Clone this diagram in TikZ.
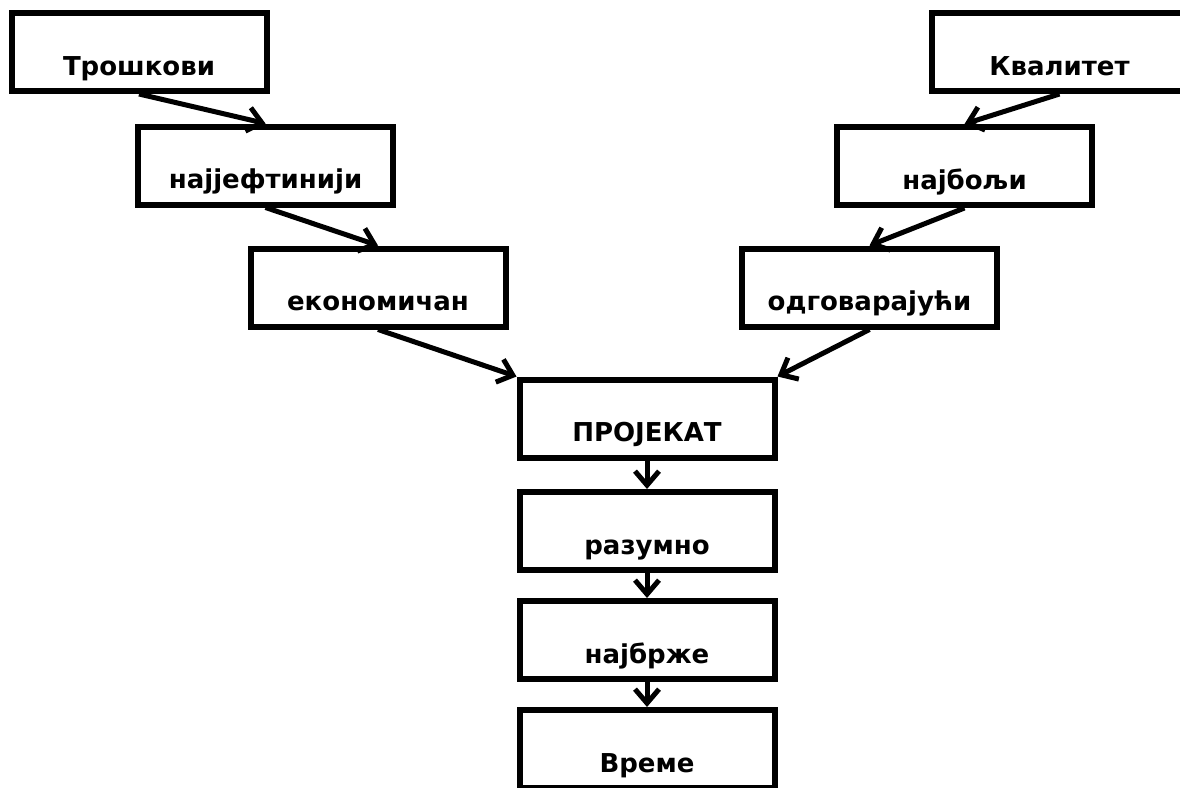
\documentclass[tikz,border=0pt]{standalone}
\usepackage{fontspec}
\setmainfont{DejaVu Sans}
\usetikzlibrary{arrows.meta}

\begin{document}
\begin{tikzpicture}[x=1pt, y=-1pt,
    box/.style={draw, line width=6pt, minimum width=255pt, minimum height=78pt,
                inner sep=0pt, text height=62pt, text depth=16pt,
                font=\fontsize{26}{30}\selectfont\bfseries},
    link/.style={line width=5pt, -{Straight Barb[length=14pt, width=24pt]}}]
    \clip[use as bounding box] (0,0) rectangle (1180,787);

    % Costs side
    \node[box] (A) at (139,52) {Трошкови};
    \node[box] (B) at (265.5,165.5) {најјефтинији};
    \node[box] (C) at (378,287.5) {економичан};

    % Quality side
    \node[box] (D) at (1059.5,52) {Квалитет};
    \node[box] (E) at (964.5,166) {најбољи};
    \node[box] (F) at (869.5,287.5) {одговарајући};

    % Project and time
    \node[box] (G) at (647,418.5) {ПРОЈЕКАТ};
    \node[box] (H) at (647,531) {разумно};
    \node[box] (I) at (647,640) {најбрже};
    \node[box] (J) at (647,749) {Време};

    % Edges
    \draw[link] (A.south) -- (B.north);
    \draw[link] (B.south) -- (C.north);
    \draw[link] (C.south) -- (G.north west);
    \draw[link] (D.south) -- (E.north);
    \draw[link] (E.south) -- (F.north);
    \draw[link] (F.south) -- (G.north east);
    \draw[link] (G) -- (H);
    \draw[link] (H) -- (I);
    \draw[link] (I) -- (J);
\end{tikzpicture}
\end{document}
